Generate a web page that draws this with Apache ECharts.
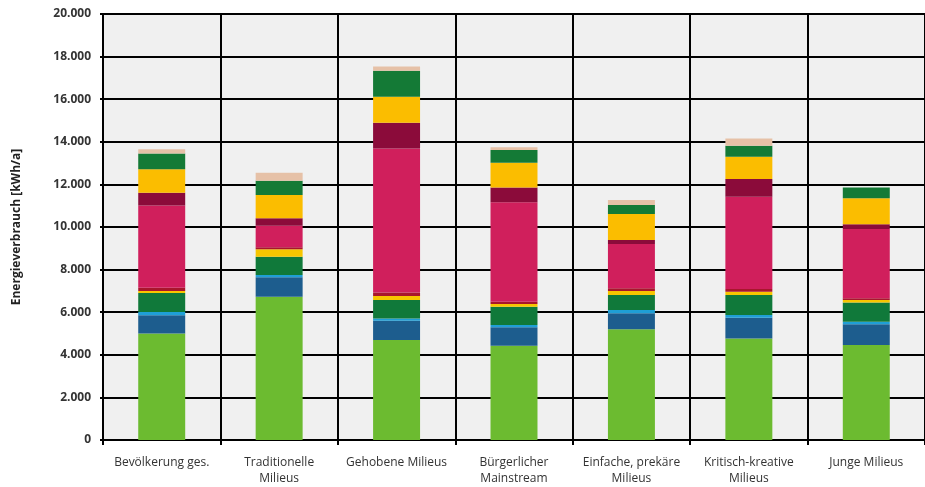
<!DOCTYPE html>
<html>
<head>
<meta charset="utf-8">
<script src="https://cdn.jsdelivr.net/npm/echarts@6/dist/echarts.min.js"></script>
<style>
  html, body { margin: 0; padding: 0; background: #ffffff; }
  #chart { width: 925px; height: 487px; }
</style>
</head>
<body>
<div id="chart"></div>
<script>
// Milieus on the x axis
const categories = [
  'Bevölkerung ges.',
  'Traditionelle\nMilieus',
  'Gehobene Milieus',
  'Bürgerlicher\nMainstream',
  'Einfache, prekäre\nMilieus',
  'Kritisch-kreative\nMilieus',
  'Junge Milieus'
];

// Stacked segments, bottom to top, in kWh/a
const hellgruen  = [5000, 6730, 4690, 4430, 5200, 4770, 4460];
const dunkelblau = [860, 910, 910, 860, 750, 970, 970];
const hellblau   = [150, 110, 110, 110, 150, 130, 120];
const dunkelgruen = [890, 850, 860, 860, 710, 940, 900];
const gelb       = [100, 350, 190, 120, 190, 150, 120];
const rotbraun   = [150, 100, 160, 110, 120, 130, 80];
const karmin     = [3860, 1010, 6770, 4670, 2080, 4330, 3260];
const bordeaux   = [600, 350, 1210, 700, 190, 830, 220];
const gold       = [1100, 1090, 1220, 1160, 1220, 1050, 1220];
const tannengruen = [740, 670, 1220, 600, 420, 520, 500];
const beige      = [200, 380, 190, 120, 240, 340, 0];

// Y axis range and tick step
const yMin = 0;
const yMax = 20000;
const yStep = 2000;

const segments = [
  { name: 'Hellgrün', data: hellgruen, color: '#6cbb30' },
  { name: 'Dunkelblau', data: dunkelblau, color: '#1d5d8e' },
  { name: 'Hellblau', data: hellblau, color: '#1f9fd6' },
  { name: 'Dunkelgrün', data: dunkelgruen, color: '#10793a' },
  { name: 'Gelb', data: gelb, color: '#f7c600' },
  { name: 'Rotbraun', data: rotbraun, color: '#a8162c' },
  { name: 'Karmin', data: karmin, color: '#d01f5c' },
  { name: 'Bordeaux', data: bordeaux, color: '#8b0b3a' },
  { name: 'Gold', data: gold, color: '#fbbd00' },
  { name: 'Tannengrün', data: tannengruen, color: '#147a36' },
  { name: 'Beige', data: beige, color: '#e6c1a7' }
];

const fmt = v => String(v).replace(/\B(?=(\d{3})+(?!\d))/g, '.');

const chart = echarts.init(document.getElementById('chart'), null, { renderer: 'canvas' });

chart.setOption({
  animation: false,
  backgroundColor: '#ffffff',
  textStyle: { fontFamily: 'Open Sans, sans-serif' },
  grid: {
    left: 103,
    top: 14,
    width: 834,
    bottom: 47,
    show: true,
    backgroundColor: '#f0f0f0',
    borderColor: '#000000',
    borderWidth: 2
  },
  xAxis: {
    type: 'category',
    data: categories,
    boundaryGap: true,
    axisLine: { show: true, lineStyle: { color: '#000000', width: 2 } },
    axisTick: { show: true, length: 5, lineStyle: { color: '#000000', width: 2 } },
    splitLine: { show: true, lineStyle: { color: '#000000', width: 2 } },
    axisLabel: {
      color: '#333333',
      fontSize: 12,
      margin: 15,
      lineHeight: 16,
      interval: 0
    }
  },
  yAxis: {
    type: 'value',
    min: yMin,
    max: yMax,
    interval: yStep,
    name: 'Energieverbrauch [kWh/a]',
    nameLocation: 'middle',
    nameGap: 80,
    nameTextStyle: { color: '#222222', fontSize: 12, fontWeight: 'bold' },
    axisLine: { show: true, lineStyle: { color: '#000000', width: 2 } },
    axisTick: { show: true, length: 3, lineStyle: { color: '#000000', width: 2 } },
    splitLine: { show: true, lineStyle: { color: '#000000', width: 2 } },
    axisLabel: {
      color: '#333333',
      fontSize: 12,
      fontWeight: 'bold',
      margin: 12,
      formatter: v => fmt(v)
    }
  },
  series: segments.map(s => ({
    name: s.name,
    type: 'bar',
    stack: 'gesamt',
    data: s.data,
    barWidth: '40%',
    itemStyle: { color: s.color },
    emphasis: { disabled: true }
  }))
});
</script>
</body>
</html>
